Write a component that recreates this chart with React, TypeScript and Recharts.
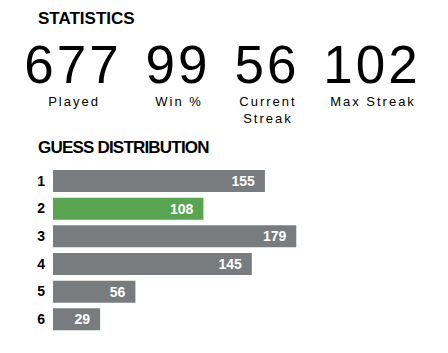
import { Bar, BarChart, Cell, LabelList, XAxis, YAxis } from "recharts";

const guesses = ["1", "2", "3", "4", "5", "6"];
const counts = [155, 108, 179, 145, 56, 29];
const lastGuess = "2";

const statValues = ["677", "99", "56", "102"];
const statLabels = [["Played"], ["Win %"], ["Current", "Streak"], ["Max Streak"]];

const GRAY = "#787c7e";
const GREEN = "#57a451";
const SANS = "'Liberation Sans', Arial, Helvetica, sans-serif";
// bars keep a small stub even at zero, like the game's own css padding
const PAD = 7;

const rows = guesses.map((g, i) => ({ guess: g, count: counts[i] }));
const statX = [73, 178, 267, 372];

function Header() {
  return (
    <svg
      width={448}
      height={353}
      style={{ position: "absolute", left: 0, top: 0, pointerEvents: "none" }}
    >
      <text x={38} y={24} fontFamily={SANS} fontWeight={700} fontSize={17} fill="#000">
        STATISTICS
      </text>
      {statValues.map((v, i) => (
        <text
          key={v + i}
          x={statX[i]}
          y={83}
          textAnchor="middle"
          fontFamily={SANS}
          fontSize={53}
          letterSpacing={3}
          fill="#000"
        >
          {v}
        </text>
      ))}
      {statLabels.map((lines, i) =>
        lines.map((l, j) => (
          <text
            key={l}
            x={statX[i] + 1}
            y={106 + j * 16.5}
            textAnchor="middle"
            fontFamily={SANS}
            fontSize={13}
            letterSpacing={2}
            fill="#000"
          >
            {l}
          </text>
        ))
      )}
      <text
        x={38}
        y={153}
        fontFamily={SANS}
        fontWeight={700}
        fontSize={17}
        letterSpacing={-0.8}
        fill="#000"
      >
        GUESS DISTRIBUTION
      </text>
    </svg>
  );
}

export default function App() {
  return (
    <div
      style={{
        position: "absolute",
        left: 0,
        top: 0,
        width: 448,
        height: 353,
        background: "#fff",
      }}
    >
      <BarChart
        width={448}
        height={353}
        data={rows}
        layout="vertical"
        margin={{ top: 167, right: 0, bottom: 20, left: 0 }}
      >
        <XAxis type="number" hide domain={[-PAD, 295]} allowDataOverflow />
        <YAxis
          type="category"
          dataKey="guess"
          width={53}
          axisLine={false}
          tickLine={false}
          tickSize={0}
          tickMargin={8}
          tick={{ fontSize: 14, fontWeight: 700, fill: "#000", fontFamily: SANS }}
        />
        <Bar
          dataKey={(d: { count: number }) => [-PAD, d.count]}
          barSize={22}
          isAnimationActive={false}
        >
          {rows.map((r) => (
            <Cell key={r.guess} fill={r.guess === lastGuess ? GREEN : GRAY} />
          ))}
          <LabelList
            dataKey="count"
            position="insideRight"
            offset={10}
            fill="#fff"
            style={{ fontSize: 14, fontWeight: 700, fontFamily: SANS }}
          />
        </Bar>
      </BarChart>
      <Header />
    </div>
  );
}
